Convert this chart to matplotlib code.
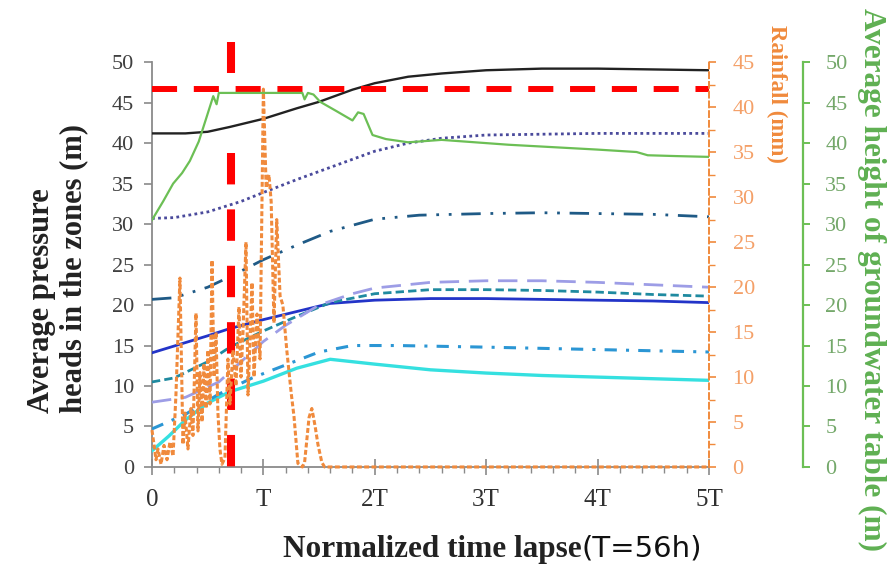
import matplotlib
matplotlib.use("Agg")
import matplotlib.pyplot as plt
from matplotlib.ticker import MultipleLocator, FixedLocator

# x positions are in units of T (T = 56 h)
x_black = [0, 0.3, 0.5, 0.7, 1.0, 1.3, 1.5, 1.8, 2.0, 2.3, 2.6, 3.0, 3.5, 4.0, 4.5, 5.0]
y_black = [41.2, 41.2, 41.4, 42.0, 43.0, 44.3, 45.1, 46.6, 47.4, 48.2, 48.6, 49.0, 49.2, 49.2, 49.1, 49.0]

x_dot = [0, 0.2, 0.5, 0.8, 1.0, 1.3, 1.6, 2.0, 2.3, 2.6, 3.0, 4.0, 5.0]
y_dot = [30.7, 30.8, 31.5, 32.8, 33.9, 35.5, 37.0, 39.0, 40.0, 40.6, 41.0, 41.2, 41.2]

x_dd = [0, 0.2, 0.5, 0.7, 1.0, 1.3, 1.6, 2.0, 2.4, 3.0, 3.5, 4.0, 4.5, 5.0]
y_dd = [20.7, 20.9, 22.2, 23.5, 25.6, 27.4, 29.1, 30.6, 31.1, 31.3, 31.4, 31.3, 31.2, 30.9]

x_lav = [0, 0.3, 0.6, 0.8, 1.0, 1.2, 1.5, 1.8, 2.0, 2.5, 3.0, 3.5, 4.0, 4.5, 5.0]
y_lav = [8.0, 8.6, 10.5, 13.0, 15.5, 17.5, 20.0, 21.4, 22.1, 22.8, 23.0, 23.0, 22.8, 22.5, 22.2]

x_teal = [0, 0.2, 0.5, 0.7, 1.0, 1.3, 1.6, 2.0, 2.5, 3.0, 3.5, 4.0, 4.5, 5.0]
y_teal = [10.5, 11.0, 13.0, 14.8, 16.8, 18.6, 20.3, 21.4, 21.9, 21.9, 21.8, 21.6, 21.3, 21.1]

x_blue = [0, 0.5, 0.7, 1.0, 1.3, 1.6, 2.0, 2.5, 3.0, 3.5, 4.0, 4.5, 5.0]
y_blue = [14.1, 16.2, 17.1, 18.2, 19.2, 20.2, 20.6, 20.8, 20.8, 20.7, 20.6, 20.5, 20.3]

x_ldd = [0, 0.3, 0.6, 0.9, 1.2, 1.5, 1.8, 2.2, 3.0, 4.0, 5.0]
y_ldd = [4.7, 6.5, 9.0, 11.0, 12.6, 14.2, 15.0, 15.0, 14.8, 14.5, 14.2]

x_cyan = [0, 0.15, 0.3, 0.5, 0.7, 1.0, 1.3, 1.6, 2.0, 2.5, 3.0, 3.5, 4.0, 4.5, 5.0]
y_cyan = [2.0, 3.8, 5.8, 7.9, 9.3, 10.6, 12.2, 13.3, 12.7, 12.0, 11.6, 11.3, 11.1, 10.9, 10.7]

# groundwater table (right green axis, m)
x_gw = [0, 0.1, 0.19, 0.27, 0.34, 0.42, 0.49, 0.55, 0.58, 0.6, 0.62, 0.8, 1.0, 1.2, 1.35, 1.37,
        1.4, 1.45, 1.51, 1.65, 1.8, 1.85, 1.9, 1.98, 2.1, 2.3, 2.6, 2.8, 3.2, 3.6, 4.0,
        4.35, 4.45, 4.7, 5.0]
y_gw = [30.5, 32.8, 35.0, 36.3, 37.8, 40.2, 43.2, 45.8, 44.8, 46.2, 46.2, 46.2, 46.2, 46.2, 46.2, 45.4,
        46.2, 46.0, 45.1, 44.0, 42.8, 43.8, 43.6, 41.0, 40.5, 40.1, 40.4, 40.2, 39.8, 39.5, 39.2,
        38.9, 38.5, 38.4, 38.3]

# rainfall (right orange axis, mm)
x_rain = [0.0, 0.018, 0.036, 0.054, 0.081, 0.108, 0.135, 0.162, 0.189, 0.215, 0.251, 0.278,
          0.296, 0.323, 0.350, 0.368, 0.395, 0.413, 0.431, 0.449, 0.467, 0.485, 0.503, 0.521,
          0.539, 0.557, 0.575, 0.592, 0.610, 0.628, 0.655, 0.682, 0.700, 0.727, 0.754, 0.781,
          0.799, 0.817, 0.844, 0.862, 0.880, 0.898, 0.916, 0.943, 0.970, 1.0, 1.025, 1.05,
          1.07, 1.095, 1.12, 1.15, 1.175, 1.21, 1.25, 1.275, 1.31, 1.35, 1.37, 1.41, 1.435,
          1.465, 1.49, 1.525, 1.55, 5.0]
y_rain = [4.1, 2.5, 0.8, 2.0, 0.3, 2.4, 0.8, 2.8, 1.2, 8.0, 21.0, 2.5,
          6.0, 2.0, 6.5, 3.5, 17.1, 4.0, 10.5, 5.0, 11.5, 6.5, 13.0, 7.0,
          23.0, 10.0, 15.0, 6.0, 2.0, 0.3, 1.0, 12.0, 7.0, 13.0, 9.0, 17.8,
          10.0, 15.0, 25.0, 8.0, 14.0, 20.5, 10.0, 17.0, 12.0, 42.0, 31.0, 32.5,
          29.5, 16.0, 27.5, 19.0, 18.0, 13.0, 8.2, 5.6, 0.4, 0.0, 0.5, 5.5, 6.5,
          4.5, 2.5, 0.5, 0.0, 0.0]

x_ticks = [0, 1, 2, 3, 4, 5]
x_ticklabels = ["0", "T", "2T", "3T", "4T", "5T"]

# red guide lines
guide_x = 0.71
guide_y = 46.7

grey = "#8a8a8a"
orange = "#f08a3c"
orange_lbl = "#f4a068"
green = "#6cbf55"
green_lbl = "#74a86a"
serif = "Liberation Serif"

fig = plt.figure(figsize=(8.94, 5.65), dpi=100)
ax = fig.add_axes([0.170, 0.1735, 0.623, 0.7165])
axr = ax.twinx()
axg = ax.twinx()

ax.plot(x_cyan, y_cyan, color="#35e0e0", lw=2.4, zorder=3)
ax.plot(x_ldd, y_ldd, color="#2b96d4", lw=2.2, ls=(0, (4, 3, 1, 3)), zorder=3)
ax.plot(x_blue, y_blue, color="#2334c8", lw=2.0, zorder=3)
ax.plot(x_teal, y_teal, color="#1f8aa0", lw=2.0, ls=(0, (3, 1.5)), zorder=3)
ax.plot(x_lav, y_lav, color="#9d9de6", lw=2.0, ls=(0, (7, 3.5)), zorder=3)
ax.plot(x_dd, y_dd, color="#1f5a86", lw=2.0, ls=(0, (7, 3.5, 1, 3.5, 1, 3.5)), zorder=3)
ax.plot(x_dot, y_dot, color="#4a4a9c", lw=2.0, ls=(0, (1, 1.2)), zorder=3)
ax.plot(x_black, y_black, color="#222222", lw=1.7, zorder=3)

axg.plot(x_gw, y_gw, color=green, lw=1.6, zorder=3)
axr.plot(x_rain, y_rain, color=orange, lw=2.2, ls=(0, (1.6, 0.8)), clip_on=False, zorder=4)

ax.set_xlim(0, 5)
ax.set_ylim(0, 50)
axr.set_ylim(0, 45)
axg.set_ylim(0, 50)

# rain and groundwater drawn above the main axes
axr.set_zorder(2)
axg.set_zorder(3)
ax.set_zorder(1)
for a in (axr, axg):
    a.patch.set_visible(False)

for a in (ax, axr, axg):
    a.spines["top"].set_visible(False)
ax.spines["right"].set_visible(False)
for s in ("left", "bottom"):
    axr.spines[s].set_visible(False)
    axg.spines[s].set_visible(False)
ax.spines["left"].set_color(grey)
ax.spines["bottom"].set_color(grey)
ax.spines["left"].set_linewidth(1.3)
ax.spines["bottom"].set_linewidth(1.3)

axr.spines["right"].set_color(orange)
axr.spines["right"].set_linestyle((0, (3, 2)))
axr.spines["right"].set_linewidth(1.4)
axg.spines["right"].set_position(("axes", 1.169))
axg.spines["right"].set_color(green)
axg.spines["right"].set_linewidth(1.6)

ax.yaxis.set_major_locator(MultipleLocator(5))
ax.xaxis.set_major_locator(FixedLocator(x_ticks))
ax.set_xticklabels(x_ticklabels)
ax.xaxis.set_minor_locator(MultipleLocator(0.2))
ax.tick_params(axis="y", colors=grey, labelcolor="#404040", labelsize=16, length=6,
               width=1.2, pad=7, labelfontfamily=serif)
ax.tick_params(axis="x", which="major", colors=grey, labelcolor="#303030", labelsize=18,
               direction="inout", length=11, width=1.2, pad=10, labelfontfamily=serif)
ax.tick_params(axis="x", which="minor", colors=grey, direction="out", length=4, width=1.0)

axr.yaxis.set_major_locator(MultipleLocator(5))
axr.yaxis.set_minor_locator(MultipleLocator(2.5))
axr.tick_params(axis="y", which="major", colors=orange, labelcolor=orange_lbl, labelsize=16,
                length=5, width=1.2, pad=12, labelfontfamily=serif)
axr.tick_params(axis="y", which="minor", colors=orange, length=4, width=1.0)

axg.yaxis.set_major_locator(MultipleLocator(5))
axg.tick_params(axis="y", colors=green, labelcolor=green_lbl, labelsize=16, length=5,
                width=1.4, pad=11, labelfontfamily=serif)

# red dashed guide lines
ax.axhline(guide_y, color="#ff0000", lw=4.3, ls=(0, (4.2, 2.8)), zorder=6)
ax.plot([guide_x, guide_x], [52.5, 48.6], color="#ff0000", lw=5.8, solid_capstyle="butt",
        clip_on=False, zorder=6)
ax.plot([guide_x, guide_x], [38.8, 0], color="#ff0000", lw=5.8, ls=(0, (3.9, 3.1)),
        clip_on=False, zorder=6)

# labels
fig.text(58 / 894, 1 - 413 / 565, "Average pressure\nheads in the zones (m)", rotation=90,
         ha="center", va="bottom", multialignment="left", family=serif, weight="bold",
         fontsize=22, linespacing=1.15, color="#222222")
fig.text(777 / 894, 1 - 94 / 565, "Rainfall (mm)", rotation=270, ha="center", va="center",
         family=serif, weight="bold", fontsize=16.5, color=orange)
fig.text(872 / 894, 1 - 280 / 565, "Average height of groundwater table (m)", rotation=270,
         ha="center", va="center", family=serif, weight="bold", fontsize=22.5, color="#5fb052")
fig.text(582 / 894, 1 - 557 / 565, "Normalized time lapse", ha="right", va="baseline",
         family=serif, weight="bold", fontsize=22.5, color="#222222")
fig.text(582 / 894, 1 - 557 / 565, "(T=56h)", ha="left", va="baseline",
         family="DejaVu Sans", fontsize=21, color="#111111")

fig.savefig("out.png", dpi=100)
